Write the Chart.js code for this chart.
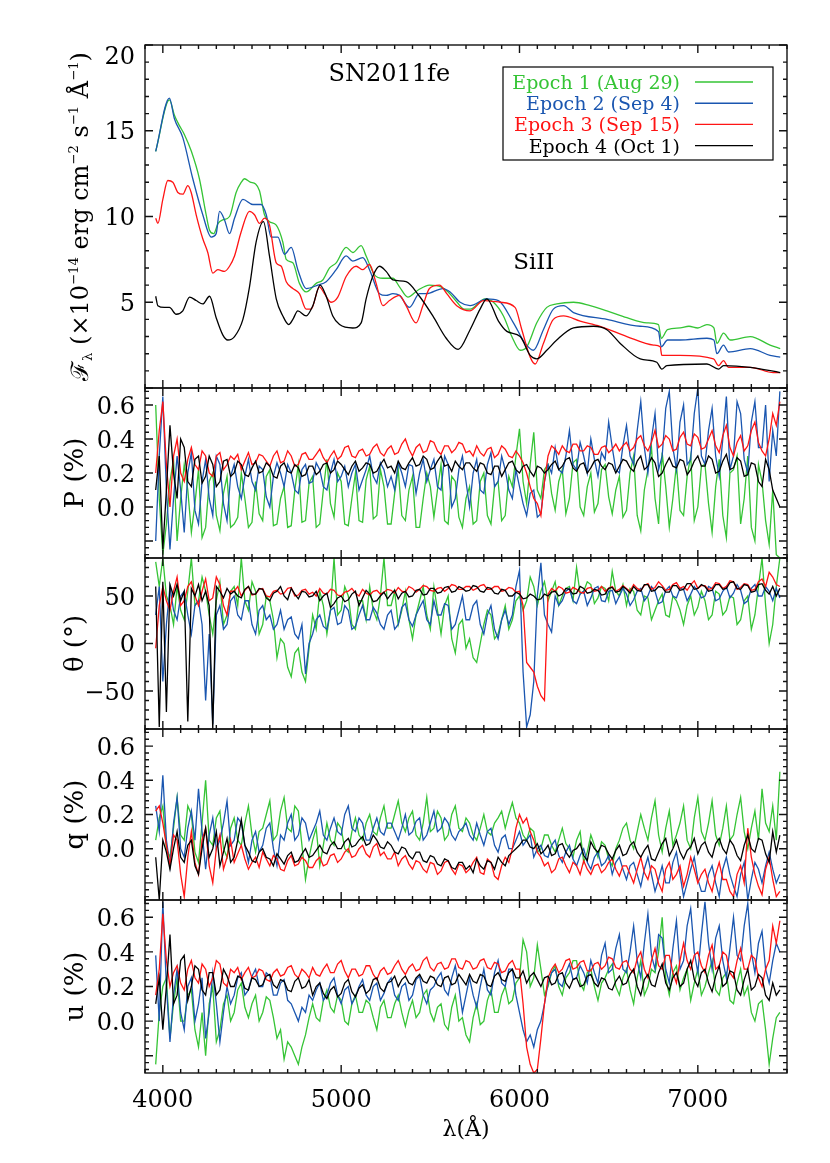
<!DOCTYPE html>
<html>
<head>
<meta charset="utf-8">
<script src="https://cdn.jsdelivr.net/npm/chart.js@4.4.0/dist/chart.umd.min.js"></script>
<style>
  html, body { margin: 0; padding: 0; background: #fff; }
  #chart { display: block; }
</style>
</head>
<body>
<canvas id="chart" width="830" height="1163"></canvas>
<script>
// ---- values ----
const epochLabels = ["Epoch 1 (Aug 29)", "Epoch 2 (Sep 4)", "Epoch 3 (Sep 15)", "Epoch 4 (Oct 1)"];
const epochColors = ["#35c435", "#1a56b0", "#ff1414", "#000000"];

// flux spectra (x 10^-14 erg cm^-2 s^-1 A^-1)
const e1Wave = [3960,4037,4065,4093,4120,4160,4205,4243,4262,4285,4310,4336,4374,4411,4440,4458,4490,4520,4542,4570,4598,4636,4673,4692,4729,4766,4804,4860,4897,4935,4972,5028,5065,5112,5140,5187,5234,5290,5327,5374,5430,5495,5560,5600,5650,5690,5723,5807,5854,5910,5957,6004,6041,6097,6153,6209,6303,6396,6490,6602,6714,6779,6795,6830,6901,6950,7000,7051,7090,7107,7144,7182,7294,7405,7462];
const e1Flux = [13.8,16.8,15.9,15.3,14.8,13.8,12.2,10.1,9.2,9.0,9.6,9.8,10.0,11.4,12.0,12.2,12.0,11.9,11.5,10.1,9.7,9.5,8.5,7.5,7.3,6.1,5.6,6.1,6.3,7.0,7.3,8.2,7.9,8.3,7.7,6.6,6.4,6.4,5.9,5.3,5.7,6.0,5.9,5.6,5.0,4.6,4.6,5.2,5.0,4.2,3.0,2.2,2.4,3.8,4.7,4.9,5.0,4.8,4.5,4.1,3.8,3.7,2.9,3.4,3.5,3.6,3.5,3.7,3.5,2.6,3.2,2.8,3.0,2.5,2.3];

const e2Wave = [3960,4037,4065,4112,4168,4224,4271,4299,4318,4346,4374,4402,4449,4505,4551,4580,4607,4645,4682,4720,4757,4804,4869,4916,4972,5028,5065,5121,5159,5215,5252,5290,5327,5383,5439,5477,5570,5611,5667,5723,5817,5882,5966,6032,6078,6134,6190,6247,6303,6490,6677,6779,6795,6830,6901,7051,7090,7107,7144,7172,7294,7405,7462];
const e2Flux = [13.8,16.9,15.7,14.6,12.2,10.1,8.8,9.0,10.3,9.8,9.0,9.9,11.0,10.7,10.7,10.1,8.8,8.8,7.8,8.2,6.9,5.8,6.0,6.2,6.9,7.7,7.4,7.6,6.9,5.5,5.4,5.5,5.4,4.7,5.5,5.5,5.8,5.6,5.0,4.8,5.2,5.1,3.8,2.6,2.2,3.4,4.6,4.8,4.4,4.0,3.6,3.3,2.4,2.8,2.8,2.9,2.8,2.0,2.5,2.1,2.3,1.9,1.8];

const e3Wave = [3960,3972,4000,4028,4056,4084,4112,4140,4159,4187,4224,4252,4280,4308,4346,4374,4402,4439,4486,4514,4542,4570,4598,4636,4664,4692,4729,4766,4804,4832,4878,4906,4944,4981,5028,5084,5121,5159,5196,5234,5271,5327,5364,5420,5458,5495,5551,5592,5648,5723,5798,5891,5975,6013,6060,6088,6134,6190,6247,6340,6452,6602,6752,6789,6798,6901,7088,7116,7144,7172,7294,7424,7462];
const e3Flux = [9.9,9.6,11.0,12.1,12.0,11.4,11.3,11.8,11.4,10.1,8.7,7.9,6.7,6.9,6.8,7.1,7.7,9.1,10.3,10.1,9.6,9.9,9.5,7.3,7.1,6.2,5.8,5.5,4.6,4.6,5.9,5.5,5.0,5.3,6.5,7.1,6.9,7.2,6.1,4.8,5.1,5.4,4.8,3.8,4.8,5.8,6.0,5.5,4.8,4.5,5.1,5.0,4.7,3.4,1.8,1.4,2.6,4.0,4.2,3.9,3.6,3.0,2.5,2.4,1.9,1.9,1.7,1.3,1.6,1.2,1.2,0.9,0.9];

const e4Wave = [3960,3972,4009,4037,4075,4112,4150,4187,4224,4262,4299,4336,4364,4402,4449,4486,4523,4564,4598,4636,4673,4706,4729,4757,4804,4841,4882,4916,4953,4991,5065,5112,5140,5177,5215,5252,5290,5364,5439,5514,5589,5656,5723,5779,5817,5882,5929,6004,6060,6097,6153,6209,6303,6415,6490,6565,6677,6770,6798,6826,7051,7116,7144,7294,7462];
const e4Flux = [5.35,4.8,4.7,4.7,4.3,4.5,5.3,5.1,4.9,5.35,4.1,3.1,2.8,3.0,4.0,5.9,8.5,9.7,7.7,5.2,4.2,3.7,4.0,4.5,4.2,4.8,6.0,5.35,4.2,3.7,3.5,3.8,5.2,6.5,7.1,6.8,6.3,6.2,5.35,4.2,2.9,2.25,3.4,4.6,5.2,3.9,3.3,3.0,1.9,1.7,2.2,2.8,3.5,3.6,3.4,2.6,1.7,1.5,1.1,1.3,1.4,1.1,1.3,1.2,0.9];

// polarimetry: shared wavelength grid
const polWave = [
  3960,3980,4000,4020,4040,4060,4080,4100,4120,4140,4160,4180,4200,4220,4240,4260,4280,4300,4320,4340,4360,4380,
  4400,4420,4440,4460,4480,4500,4520,4540,4560,4580,4600,4620,4640,4660,4680,4700,4720,4740,4760,4780,4800,4820,
  4840,4860,4880,4900,4920,4940,4960,4980,5000,5020,5040,5060,5080,5100,5120,5140,5160,5180,5200,5220,5240,5260,
  5280,5300,5320,5340,5360,5380,5400,5420,5440,5460,5480,5500,5520,5540,5560,5580,5600,5620,5640,5660,5680,5700,
  5720,5740,5760,5780,5800,5820,5840,5860,5880,5900,5920,5940,5960,5980,6000,6020,6040,6060,6080,6100,6120,6140,
  6160,6180,6200,6220,6240,6260,6280,6300,6320,6340,6360,6380,6400,6420,6440,6460,6480,6500,6520,6540,6560,6580,
  6600,6620,6640,6660,6680,6700,6720,6740,6760,6780,6800,6820,6840,6860,6880,6900,6920,6940,6960,6980,7000,7020,
  7040,7060,7080,7100,7120,7140,7160,7180,7200,7220,7240,7260,7280,7300,7320,7340,7360,7380,7400,7420,7440,7460];

// P (%)
const pE1 = [
  0.60,0.05,-0.28,-0.10,0.15,0.28,-0.20,0.05,0.25,0.10,-0.15,0.02,0.22,-0.18,-0.12,0.15,0.20,-0.05,-0.14,0.08,0.18,-0.12,
  -0.10,-0.06,0.20,0.05,-0.12,-0.09,0.15,-0.04,-0.08,0.18,0.22,-0.11,-0.10,0.05,0.12,-0.12,-0.11,0.10,0.25,-0.09,-0.08,0.14,
  0.18,-0.12,-0.10,0.10,0.28,0.02,-0.06,0.20,0.15,-0.10,-0.11,0.05,0.20,-0.08,-0.09,0.16,0.24,-0.07,-0.05,0.22,0.12,-0.10,
  -0.10,0.08,0.22,-0.05,-0.08,0.10,0.18,-0.12,-0.12,0.05,0.20,0.12,-0.06,0.10,0.25,-0.08,-0.10,0.18,0.15,-0.06,-0.12,0.05,
  0.12,-0.10,-0.08,0.15,0.20,-0.05,-0.10,0.12,0.15,-0.08,-0.05,0.18,0.12,0.30,0.46,0.15,0.02,0.25,0.44,0.10,0.05,0.22,
  0.25,0.08,-0.02,0.15,0.22,-0.04,0.05,0.26,0.28,0.00,-0.05,0.12,0.20,-0.03,0.02,0.22,0.25,0.06,-0.04,0.10,0.18,-0.06,
  -0.02,0.20,0.30,-0.05,-0.14,0.10,0.22,0.35,0.05,-0.10,0.32,0.12,-0.12,0.05,0.25,-0.02,-0.05,0.18,0.30,-0.08,0.00,0.24,
  0.25,0.02,-0.15,0.12,0.28,-0.05,-0.18,0.20,0.22,0.30,-0.10,0.05,0.30,-0.12,-0.20,0.25,0.15,-0.08,-0.22,0.10,-0.28,-0.30];
const pE2 = [
  -0.20,0.30,0.65,0.10,-0.25,0.05,0.30,0.10,-0.15,0.20,0.32,-0.02,-0.10,0.15,0.28,0.05,-0.05,0.30,0.25,0.02,-0.08,0.18,
  0.25,0.12,0.05,0.18,0.28,0.15,0.10,0.24,0.22,0.06,0.00,0.18,0.26,0.20,0.12,0.25,0.20,0.10,0.08,0.22,0.25,0.14,
  0.15,0.26,0.22,0.12,0.10,0.20,0.28,0.15,0.18,0.24,0.12,0.20,0.25,0.10,0.16,0.22,0.30,0.18,0.14,0.26,0.22,0.12,
  0.18,0.10,0.26,0.20,0.12,0.25,0.24,0.08,0.20,0.28,0.15,0.22,0.28,0.12,0.10,0.30,0.25,0.00,0.05,0.22,0.30,0.15,
  0.00,0.20,0.28,0.10,0.08,0.25,0.32,0.12,0.15,0.30,0.22,0.10,0.05,0.22,0.12,0.02,-0.05,0.08,0.10,-0.06,-0.04,0.15,
  0.25,0.20,0.35,0.22,0.20,0.30,0.45,0.25,0.22,0.38,0.30,0.20,0.40,0.28,0.18,0.32,0.28,0.50,0.35,0.22,0.20,0.36,
  0.48,0.30,0.25,0.45,0.62,0.35,0.20,0.40,0.55,0.22,0.30,0.58,0.68,0.35,0.22,0.50,0.60,0.25,0.28,0.55,0.70,0.30,
  0.25,0.45,0.58,0.30,0.18,0.40,0.65,0.22,0.30,0.62,0.55,0.28,0.20,0.50,0.62,0.35,0.35,0.60,0.15,0.45,0.30,0.68];
const pE3 = [
  0.20,0.45,0.62,0.25,0.00,0.30,0.40,0.20,0.15,0.28,0.35,0.25,0.22,0.33,0.30,0.20,0.18,0.30,0.32,0.22,0.25,0.30,
  0.28,0.31,0.22,0.27,0.32,0.25,0.26,0.31,0.30,0.27,0.24,0.30,0.33,0.26,0.27,0.33,0.30,0.24,0.25,0.31,0.32,0.28,
  0.28,0.31,0.34,0.29,0.26,0.30,0.33,0.28,0.30,0.35,0.36,0.30,0.29,0.33,0.34,0.30,0.31,0.35,0.37,0.32,0.30,0.34,
  0.36,0.31,0.32,0.37,0.40,0.34,0.30,0.35,0.37,0.32,0.33,0.39,0.38,0.33,0.31,0.36,0.36,0.32,0.34,0.38,0.37,0.32,
  0.33,0.30,0.36,0.32,0.30,0.34,0.35,0.29,0.31,0.36,0.34,0.30,0.29,0.33,0.30,0.26,0.20,0.12,0.05,0.02,-0.05,0.15,
  0.30,0.36,0.34,0.31,0.36,0.33,0.32,0.37,0.37,0.33,0.33,0.36,0.35,0.31,0.31,0.35,0.36,0.32,0.34,0.37,0.33,0.36,
  0.38,0.33,0.35,0.40,0.42,0.36,0.33,0.38,0.45,0.35,0.37,0.42,0.40,0.33,0.34,0.41,0.44,0.37,0.36,0.43,0.41,0.34,
  0.35,0.40,0.45,0.36,0.32,0.42,0.48,0.35,0.30,0.38,0.42,0.33,0.36,0.45,0.50,0.38,0.33,0.30,0.40,0.55,0.48,0.62];
const pE4 = [
  0.10,0.30,-0.25,0.10,0.48,0.20,0.05,0.40,0.35,0.15,0.12,0.28,0.30,0.14,0.18,0.30,0.25,0.12,0.15,0.27,0.28,0.18,
  0.20,0.27,0.25,0.19,0.18,0.23,0.27,0.20,0.21,0.26,0.24,0.18,0.17,0.24,0.26,0.21,0.20,0.25,0.23,0.18,0.19,0.24,
  0.24,0.19,0.21,0.25,0.26,0.20,0.22,0.27,0.25,0.22,0.19,0.24,0.27,0.21,0.23,0.26,0.25,0.20,0.21,0.25,0.28,0.23,
  0.24,0.20,0.27,0.23,0.22,0.26,0.29,0.24,0.25,0.30,0.28,0.22,0.23,0.27,0.30,0.24,0.25,0.21,0.27,0.24,0.22,0.26,
  0.26,0.23,0.21,0.26,0.25,0.20,0.19,0.24,0.24,0.18,0.22,0.26,0.27,0.22,0.20,0.24,0.25,0.21,0.18,0.24,0.23,0.20,
  0.22,0.25,0.27,0.22,0.24,0.28,0.29,0.23,0.21,0.25,0.26,0.20,0.23,0.27,0.28,0.24,0.22,0.26,0.25,0.20,0.24,0.28,
  0.27,0.23,0.21,0.27,0.30,0.22,0.24,0.29,0.26,0.18,0.20,0.25,0.29,0.24,0.23,0.28,0.27,0.19,0.22,0.27,0.30,0.24,
  0.24,0.30,0.28,0.20,0.21,0.27,0.31,0.22,0.23,0.29,0.27,0.18,0.19,0.26,0.25,0.15,0.12,0.28,0.22,0.10,0.05,0.00];

// theta (deg)
const tE1 = [
  86,60,90,50,40,20,60,35,25,55,90,40,45,70,55,30,10,45,65,20,30,55,
  60,40,90,45,35,65,55,10,20,50,45,25,-15,5,0,-25,-35,-10,-5,-30,-40,-5,
  30,15,55,40,10,35,90,30,35,60,50,20,15,45,45,25,60,35,25,50,90,40,
  40,55,20,35,55,25,5,30,45,60,30,15,60,35,10,40,50,5,-10,20,25,-5,
  5,-15,-20,0,20,35,30,5,10,25,40,15,25,45,50,35,45,70,60,40,55,65,
  45,55,65,40,50,58,60,45,80,52,55,65,62,42,48,60,58,45,76,55,50,62,
  40,58,55,35,30,50,48,25,35,45,52,30,28,50,45,35,20,40,50,30,38,55,
  45,25,30,55,52,30,35,50,48,20,25,45,50,15,30,60,90,40,0,20,60,90];
const tE2 = [
  30,60,-40,20,60,35,25,50,55,30,10,40,45,20,-60,10,-85,30,40,15,20,45,
  50,30,25,45,45,20,10,35,40,25,30,15,20,35,15,25,28,10,5,20,-32,0,
  10,25,30,18,15,35,38,20,22,40,35,15,18,30,40,25,25,38,32,20,15,30,
  35,15,20,38,42,25,18,30,38,45,25,20,45,30,30,42,40,15,20,35,50,25,
  25,40,45,20,10,30,40,15,5,25,35,20,30,60,77,-30,-88,-75,-40,50,85,30,
  20,12,50,40,45,55,58,45,42,52,55,40,48,58,60,45,44,55,56,42,50,58,
  52,40,46,55,58,45,50,60,55,42,44,56,60,50,48,58,57,45,52,60,55,48,
  50,60,58,45,47,55,60,48,53,62,56,42,45,58,62,50,50,60,55,45,58,48];
const tE3 = [
  -5,40,60,45,35,55,70,40,45,60,65,50,40,55,68,45,48,70,62,40,30,55,
  55,60,50,56,60,51,52,57,58,50,49,55,56,52,53,58,59,50,51,56,57,52,
  54,50,58,53,52,57,56,51,50,54,55,58,53,50,57,53,51,55,56,52,54,57,
  56,53,59,55,54,60,58,54,57,61,60,56,55,58,59,55,58,62,61,57,57,60,
  60,56,58,61,62,57,57,60,60,55,56,59,58,54,55,40,-20,-25,-30,-45,-55,-60,
  52,58,55,60,58,53,54,59,57,54,53,58,59,55,56,60,55,58,60,55,57,61,
  58,55,62,58,56,61,63,57,59,65,61,56,57,62,64,58,60,56,62,66,58,61,
  61,57,58,64,63,58,60,66,65,57,59,63,62,56,57,65,68,60,75,70,62,60];
const tE4 = [
  60,-88,65,-72,62,50,62,45,55,-82,58,50,62,45,55,40,-90,60,55,48,58,52,
  55,50,48,57,60,52,52,58,57,48,45,53,55,60,50,46,58,52,47,55,54,49,
  50,55,45,50,53,38,42,48,50,44,46,52,55,40,48,56,52,44,45,50,54,47,
  52,56,47,53,55,49,50,56,57,51,52,58,58,53,54,59,60,54,55,60,58,55,
  56,61,60,55,54,59,58,53,52,57,56,50,50,54,52,47,48,52,50,46,47,52,
  50,54,55,50,52,58,57,52,53,60,58,53,54,57,56,51,52,58,59,54,55,60,
  57,53,60,56,55,62,62,55,56,60,59,54,54,61,61,56,57,63,63,57,58,62,
  60,55,56,62,62,57,58,64,65,58,57,62,61,54,55,62,63,56,52,60,50,58];

// q (%)
const qE1 = [
  0.05,0.18,0.25,0.00,-0.05,0.12,0.30,0.08,0.05,0.25,0.20,-0.02,-0.08,0.15,0.40,0.05,0.02,0.18,0.22,0.00,-0.05,0.12,
  0.18,0.05,0.02,0.15,0.25,0.08,-0.02,0.10,0.12,0.20,0.28,0.05,0.08,0.22,0.30,0.12,0.10,0.25,0.22,0.02,-0.18,-0.05,
  0.05,0.12,-0.10,0.02,0.15,0.05,0.02,0.15,0.12,0.00,-0.02,0.10,0.18,0.08,0.05,0.15,0.20,0.10,0.08,0.18,0.25,0.12,
  0.12,0.20,0.28,0.15,0.10,0.18,0.22,0.08,0.05,0.15,0.30,0.10,0.12,0.22,0.18,0.05,0.08,0.20,0.25,0.12,0.10,0.18,
  0.15,0.08,0.05,0.12,0.20,0.10,0.08,0.15,0.18,0.22,0.12,0.20,0.27,0.18,0.15,0.08,0.05,0.12,0.10,-0.02,0.00,0.08,
  0.08,0.02,-0.02,0.05,0.12,0.03,0.00,-0.05,0.05,0.10,-0.08,-0.02,0.08,0.02,-0.05,0.04,0.02,-0.06,-0.10,0.00,0.05,0.12,
  0.15,0.05,0.00,0.10,0.20,0.12,0.05,0.18,0.28,0.08,-0.02,0.12,0.22,0.02,0.08,0.15,0.25,0.05,0.00,0.18,0.30,0.10,
  0.05,0.15,0.28,0.08,0.02,0.12,0.25,0.05,0.08,0.20,0.30,0.10,0.00,0.12,0.22,0.05,0.35,0.15,0.10,0.25,0.05,0.45];
const qE2 = [
  0.25,0.10,0.43,0.05,-0.10,0.15,0.30,0.00,-0.05,0.12,0.22,0.05,0.35,0.10,-0.12,0.08,0.18,0.00,0.05,0.15,0.28,0.02,
  0.05,0.18,0.15,0.02,-0.08,0.05,0.10,-0.02,0.02,0.12,0.15,0.00,-0.10,0.08,0.05,0.15,0.20,0.05,0.08,0.18,0.15,0.05,
  0.10,0.15,0.22,0.08,0.05,0.12,0.18,0.10,0.08,0.20,0.25,0.12,0.10,0.18,0.15,0.05,0.05,0.12,0.18,0.10,0.08,0.15,
  0.15,0.10,0.05,0.12,0.20,0.08,0.10,0.16,0.18,0.05,0.08,0.15,0.22,0.10,0.12,0.18,0.15,0.08,0.05,0.10,0.12,0.15,
  0.08,0.05,0.15,0.08,0.02,0.10,0.12,0.02,-0.02,0.06,0.08,0.00,0.00,0.05,0.10,0.02,0.05,0.08,-0.05,0.00,0.02,-0.04,
  -0.05,0.02,0.05,-0.04,-0.08,-0.02,0.02,-0.06,-0.10,-0.04,0.00,-0.08,-0.12,-0.05,-0.02,-0.10,-0.08,-0.04,-0.15,-0.08,-0.05,-0.12,
  -0.18,-0.10,-0.08,-0.15,-0.22,-0.12,-0.05,-0.15,-0.25,-0.18,-0.10,-0.20,-0.20,-0.08,-0.02,-0.15,-0.28,-0.20,-0.12,-0.05,-0.18,-0.25,
  -0.25,-0.15,-0.10,-0.20,-0.28,-0.12,-0.05,-0.15,-0.22,-0.28,-0.15,-0.08,-0.30,-0.18,-0.08,-0.12,-0.20,-0.10,-0.02,-0.12,-0.20,-0.15];
const qE3 = [
  0.22,0.25,0.15,0.02,-0.10,0.08,0.05,-0.15,-0.28,-0.05,0.10,-0.08,-0.15,0.05,0.12,-0.10,-0.20,0.00,0.08,-0.12,-0.05,0.05,
  -0.08,-0.03,0.02,-0.06,-0.12,-0.08,-0.05,-0.11,-0.02,-0.06,-0.10,-0.04,-0.06,-0.12,-0.13,-0.07,-0.04,-0.10,-0.09,-0.05,-0.07,-0.11,
  -0.11,-0.07,-0.05,-0.10,-0.09,-0.04,-0.03,-0.08,-0.06,-0.02,0.00,-0.05,-0.04,0.00,0.02,-0.03,-0.05,0.01,0.03,-0.04,-0.02,-0.06,
  -0.06,-0.02,-0.10,-0.06,-0.04,-0.09,-0.12,-0.07,-0.08,-0.12,-0.14,-0.08,-0.09,-0.15,-0.13,-0.08,-0.07,-0.12,-0.15,-0.09,-0.10,-0.14,
  -0.12,-0.08,-0.05,-0.14,-0.15,-0.06,-0.08,-0.16,-0.18,-0.10,-0.05,-0.08,0.00,0.12,0.20,0.15,0.18,0.10,0.05,-0.02,-0.05,-0.10,
  -0.08,-0.14,-0.12,-0.06,-0.05,-0.10,-0.14,-0.08,-0.10,-0.15,-0.07,-0.12,-0.15,-0.10,-0.09,-0.14,-0.12,-0.08,-0.06,-0.12,-0.16,-0.10,
  -0.10,-0.15,-0.20,-0.12,-0.05,-0.14,-0.18,-0.10,-0.12,-0.20,-0.25,-0.12,-0.08,-0.18,-0.15,-0.10,-0.22,-0.15,-0.05,-0.12,-0.20,-0.15,
  -0.12,-0.20,-0.25,-0.15,-0.08,-0.18,-0.18,-0.25,-0.28,-0.15,-0.10,-0.20,0.12,-0.05,-0.15,-0.22,-0.27,-0.12,-0.05,-0.18,-0.28,-0.25];
const qE4 = [
  -0.05,-0.30,0.05,-0.02,-0.12,0.00,0.10,-0.05,-0.08,0.02,0.05,-0.10,-0.15,0.00,0.12,-0.05,0.00,0.10,-0.10,-0.02,0.06,-0.08,
  -0.05,0.05,0.17,0.02,-0.02,-0.07,-0.08,-0.02,0.00,-0.05,-0.06,-0.10,-0.03,-0.06,-0.09,-0.04,-0.02,-0.08,-0.07,-0.03,0.00,-0.05,
  -0.04,-0.01,0.02,-0.02,-0.03,0.02,0.04,0.00,0.00,0.04,0.06,0.01,0.02,0.05,0.07,0.02,0.03,0.08,0.05,0.01,0.00,0.04,
  0.02,-0.02,-0.03,0.01,0.00,-0.04,-0.06,-0.02,-0.02,-0.07,-0.08,-0.04,-0.05,-0.09,-0.10,-0.06,-0.07,-0.11,-0.12,-0.08,-0.08,-0.12,
  -0.10,-0.14,-0.06,-0.10,-0.12,-0.07,-0.08,-0.12,-0.05,-0.08,-0.10,-0.04,-0.02,0.00,0.02,0.05,0.05,0.01,0.00,0.03,-0.03,-0.01,
  0.02,-0.04,-0.03,0.02,0.03,-0.02,-0.05,-0.01,0.00,0.03,-0.04,-0.07,0.04,0.00,-0.02,0.02,0.01,-0.03,-0.06,-0.01,0.02,-0.04,
  -0.03,0.02,0.04,-0.02,-0.05,-0.01,0.02,-0.06,-0.07,-0.02,0.03,0.06,-0.04,0.00,0.05,-0.02,-0.06,-0.01,0.01,0.06,-0.03,0.02,
  0.04,-0.02,-0.05,0.03,0.06,0.00,-0.03,0.05,0.02,-0.04,-0.07,0.02,0.08,0.00,-0.02,0.06,0.05,-0.03,-0.08,0.10,-0.02,0.08];

// u (%)
const uE1 = [
  -0.25,0.05,0.20,0.25,-0.10,0.10,0.25,0.00,0.00,0.15,0.18,-0.05,-0.15,0.05,-0.20,0.10,0.20,-0.12,-0.05,0.10,0.15,0.00,
  0.05,0.18,0.22,0.08,0.02,0.10,0.15,0.00,0.05,0.14,0.12,0.02,-0.10,-0.05,-0.22,-0.12,-0.15,-0.20,-0.25,-0.15,-0.08,0.02,
  0.10,0.02,0.00,0.12,0.18,0.08,0.05,0.15,0.12,0.00,-0.02,0.10,0.15,0.05,0.05,0.12,0.10,0.02,-0.05,0.08,0.12,0.02,
  0.02,0.10,0.15,0.05,-0.03,0.06,0.12,0.02,0.05,0.15,0.18,0.05,0.00,0.08,0.10,-0.02,-0.05,0.08,0.15,0.00,0.02,-0.08,
  -0.12,0.02,0.10,-0.02,0.00,0.12,0.18,0.05,0.05,0.15,0.20,0.10,0.12,0.22,0.25,0.47,0.40,0.20,0.25,0.44,0.30,0.15,
  0.20,0.28,0.32,0.20,0.15,0.25,0.28,0.35,0.35,0.22,0.18,0.28,0.30,0.20,0.12,0.22,0.25,0.30,0.33,0.20,0.15,0.25,
  0.30,0.18,0.10,0.25,0.35,0.15,0.20,0.30,0.28,0.40,0.60,0.25,0.15,0.28,0.32,0.18,0.25,0.30,0.12,0.22,0.30,0.15,
  0.20,0.28,0.35,0.18,0.15,0.25,0.28,0.12,0.10,0.22,0.30,0.15,0.20,0.05,0.00,0.10,0.12,-0.05,-0.25,-0.10,0.02,0.05];
const uE2 = [
  0.38,0.00,0.69,0.20,-0.12,0.15,0.30,0.05,-0.05,0.20,0.25,0.00,0.10,0.25,-0.10,0.05,0.28,0.10,-0.12,0.05,0.20,0.10,
  0.15,0.25,0.28,0.15,0.18,0.26,0.30,0.20,0.20,0.28,0.26,0.15,0.15,0.22,0.24,0.12,0.10,0.05,0.00,0.08,0.05,0.15,
  0.12,0.18,0.22,0.12,0.15,0.22,0.25,0.15,0.10,0.18,0.20,0.10,0.14,0.20,0.24,0.15,0.12,0.20,0.22,0.12,0.16,0.22,
  0.25,0.15,0.12,0.20,0.22,0.12,0.15,0.24,0.26,0.15,0.10,0.18,0.20,0.25,0.28,0.18,0.15,0.25,0.32,0.20,0.05,0.15,
  0.25,0.15,0.08,0.20,0.30,0.18,0.15,0.28,0.35,0.22,0.20,0.30,0.30,0.15,0.05,-0.05,-0.12,-0.08,-0.15,-0.05,0.00,0.10,
  0.22,0.28,0.30,0.22,0.20,0.28,0.33,0.24,0.25,0.32,0.28,0.22,0.35,0.28,0.22,0.38,0.45,0.28,0.30,0.42,0.50,0.30,
  0.28,0.40,0.55,0.35,0.25,0.45,0.62,0.38,0.30,0.50,0.48,0.30,0.22,0.42,0.58,0.30,0.35,0.55,0.65,0.40,0.28,0.50,
  0.69,0.45,0.30,0.48,0.55,0.35,0.25,0.42,0.60,0.38,0.35,0.55,0.68,0.40,0.28,0.45,0.52,0.30,0.22,0.35,0.45,0.40];
const uE3 = [
  0.15,0.30,0.62,0.35,0.20,0.28,0.32,0.22,0.18,0.30,0.35,0.25,0.22,0.33,0.30,0.20,0.25,0.35,0.33,0.22,0.20,0.30,
  0.28,0.31,0.24,0.28,0.31,0.25,0.26,0.30,0.29,0.24,0.23,0.28,0.30,0.26,0.27,0.31,0.32,0.27,0.25,0.30,0.28,0.25,
  0.31,0.27,0.26,0.30,0.33,0.28,0.28,0.33,0.35,0.29,0.25,0.30,0.30,0.26,0.27,0.32,0.32,0.27,0.24,0.29,0.31,0.27,
  0.28,0.32,0.35,0.30,0.27,0.31,0.33,0.29,0.30,0.35,0.37,0.31,0.29,0.33,0.34,0.30,0.31,0.36,0.36,0.31,0.30,0.35,
  0.34,0.30,0.31,0.35,0.36,0.31,0.30,0.34,0.33,0.28,0.29,0.33,0.35,0.30,0.30,0.10,-0.15,-0.25,-0.30,-0.28,-0.10,0.10,
  0.25,0.30,0.33,0.28,0.30,0.35,0.36,0.30,0.31,0.34,0.35,0.29,0.29,0.33,0.34,0.30,0.32,0.37,0.36,0.31,0.30,0.34,
  0.35,0.30,0.28,0.36,0.40,0.30,0.25,0.35,0.42,0.32,0.30,0.38,0.38,0.28,0.22,0.35,0.45,0.35,0.30,0.38,0.40,0.32,
  0.28,0.38,0.44,0.30,0.32,0.40,0.38,0.28,0.25,0.35,0.42,0.30,0.30,0.38,0.36,0.25,0.20,0.30,0.35,0.55,0.45,0.58];
const uE4 = [
  0.10,0.25,-0.05,0.20,0.50,0.10,0.15,0.35,0.38,0.12,0.20,0.32,0.30,0.18,0.15,0.28,0.28,0.15,0.18,0.30,0.26,0.20,
  0.20,0.26,0.25,0.19,0.18,0.25,0.24,0.20,0.21,0.26,0.27,0.21,0.19,0.24,0.23,0.18,0.17,0.23,0.25,0.19,0.20,0.24,
  0.15,0.20,0.22,0.16,0.13,0.18,0.20,0.14,0.16,0.22,0.24,0.17,0.14,0.19,0.21,0.16,0.18,0.24,0.25,0.19,0.17,0.22,
  0.23,0.26,0.20,0.24,0.26,0.22,0.21,0.25,0.27,0.23,0.22,0.26,0.25,0.21,0.20,0.25,0.26,0.21,0.22,0.27,0.24,0.21,
  0.27,0.23,0.22,0.27,0.26,0.21,0.20,0.26,0.28,0.24,0.23,0.28,0.30,0.25,0.25,0.29,0.22,0.26,0.28,0.24,0.20,0.25,
  0.26,0.21,0.22,0.27,0.28,0.22,0.19,0.24,0.25,0.20,0.21,0.26,0.27,0.22,0.20,0.25,0.24,0.19,0.18,0.23,0.26,0.21,
  0.22,0.27,0.30,0.20,0.15,0.24,0.27,0.21,0.20,0.28,0.33,0.22,0.18,0.25,0.28,0.20,0.22,0.30,0.35,0.24,0.20,0.28,
  0.30,0.22,0.17,0.26,0.32,0.20,0.22,0.29,0.28,0.18,0.15,0.24,0.30,0.18,0.20,0.27,0.25,0.15,0.12,0.22,0.15,0.18];

// tick labels
const waveTicks = [4000, 5000, 6000, 7000];
const fluxTicks = [5, 10, 15, 20];
const pctTicks = [0.0, 0.2, 0.4, 0.6];
const thetaTicks = [-50, 0, 50];

// ---- panel setup ----
const panels = [
  { id: "yF", min: 0, max: 20, h: 343, minor: 1, major: 5, ticks: fluxTicks, fmt: v => String(v), title: null, smooth: true,
    series: [[e1Wave, e1Flux], [e2Wave, e2Flux], [e3Wave, e3Flux], [e4Wave, e4Flux]] },
  { id: "yP", min: -0.3, max: 0.7, h: 170, minor: 0.04, major: 0.2, ticks: pctTicks, fmt: v => v.toFixed(1), title: "P (%)",
    series: [[polWave, pE1], [polWave, pE2], [polWave, pE3], [polWave, pE4]] },
  { id: "yT", min: -90, max: 90, h: 171, minor: 10, major: 50, ticks: thetaTicks, fmt: v => String(v).replace("-", "\u2212"), title: "\u03b8 (\u00b0)",
    series: [[polWave, tE1], [polWave, tE2], [polWave, tE3], [polWave, tE4]] },
  { id: "yQ", min: -0.3, max: 0.7, h: 171, minor: 0.04, major: 0.2, ticks: pctTicks, fmt: v => v.toFixed(1), title: "q (%)",
    series: [[polWave, qE1], [polWave, qE2], [polWave, qE3], [polWave, qE4]] },
  { id: "yU", min: -0.3, max: 0.7, h: 173, minor: 0.04, major: 0.2, ticks: pctTicks, fmt: v => v.toFixed(1), title: "u (%)",
    series: [[polWave, uE1], [polWave, uE2], [polWave, uE3], [polWave, uE4]] }
];

const FONT = '"DejaVu Serif", "Liberation Serif", serif';

function pairs(xs, ys) {
  return xs.map((x, i) => ({ x: x, y: ys[i] }));
}

const datasets = [];
panels.forEach(p => {
  p.series.forEach((s, e) => {
    const ds = {
      label: epochLabels[e],
      data: pairs(s[0], s[1]),
      yAxisID: p.id,
      borderColor: epochColors[e],
      borderWidth: 1.3,
      pointRadius: 0,
      tension: 0,
      order: 3 - e
    };
    if (p.smooth) ds.cubicInterpolationMode = "monotone";
    datasets.push(ds);
  });
});

const scales = {
  x: {
    type: "linear", position: "bottom", min: 3900, max: 7500,
    grid: { display: false }, border: { display: false }, ticks: { display: false },
    afterFit: s => { s.height = 90; }
  }
};
panels.forEach((p, i) => {
  scales[p.id] = {
    type: "linear", position: "left", stack: "panels", stackWeight: p.h, weight: 10 - i,
    min: p.min, max: p.max,
    grid: { display: false }, border: { display: false }, ticks: { display: false },
    afterFit: s => { s.width = 145; }
  };
});

// frame, inward ticks, labels, legend, annotations
const framePlugin = {
  id: "frame",
  afterDatasetsDraw(chart) {
    const ctx = chart.ctx;
    const xs = chart.scales.x;
    const area = chart.chartArea;
    ctx.save();
    ctx.strokeStyle = "#111";
    ctx.fillStyle = "#000";
    ctx.lineWidth = 1.4;

    panels.forEach(p => {
      const ys = chart.scales[p.id];
      const top = ys.top, bot = ys.bottom;
      ctx.strokeRect(area.left, top, area.right - area.left, bot - top);

      ctx.beginPath();
      for (let k = 39; k <= 75; k++) {
        const v = k * 100;
        const px = xs.getPixelForValue(v);
        const len = v % 1000 === 0 ? 8 : 4;
        ctx.moveTo(px, bot); ctx.lineTo(px, bot - len);
        ctx.moveTo(px, top); ctx.lineTo(px, top + len);
      }
      const kMin = Math.ceil(p.min / p.minor - 1e-6), kMax = Math.floor(p.max / p.minor + 1e-6);
      const per = Math.round(p.major / p.minor);
      for (let k = kMin; k <= kMax; k++) {
        const py = ys.getPixelForValue(k * p.minor);
        const len = k % per === 0 ? 8 : 4;
        ctx.moveTo(area.left, py); ctx.lineTo(area.left + len, py);
        ctx.moveTo(area.right, py); ctx.lineTo(area.right - len, py);
      }
      ctx.stroke();

      ctx.font = "24px " + FONT;
      ctx.textAlign = "right";
      ctx.textBaseline = "alphabetic";
      p.ticks.forEach(v => {
        let cy = ys.getPixelForValue(v);
        cy = Math.max(cy, top + 10);
        ctx.fillText(p.fmt(v), area.left - 10, cy + 8.7);
      });

      const cyT = (top + bot) / 2;
      if (p.title) {
        ctx.save();
        ctx.translate(83, cyT);
        ctx.rotate(-Math.PI / 2);
        ctx.textAlign = "center";
        ctx.font = "26px " + FONT;
        ctx.fillText(p.title, 0, 0);
        ctx.restore();
      } else {
        drawFluxTitle(ctx, 88, cyT);
      }
    });

    ctx.font = "24px " + FONT;
    ctx.textAlign = "center";
    waveTicks.forEach(v => {
      ctx.fillText(String(v), xs.getPixelForValue(v), area.bottom + 34);
    });
    ctx.font = "22px " + FONT;
    ctx.fillText("\u03bb(\u00c5)", (area.left + area.right) / 2, area.bottom + 63);

    const yF = chart.scales.yF;
    ctx.font = "24px " + FONT;
    ctx.fillText("SN2011fe", xs.getPixelForValue(5270), yF.getPixelForValue(18.4) + 9);
    ctx.font = "23px " + FONT;
    ctx.fillText("SiII", xs.getPixelForValue(6080), yF.getPixelForValue(7.4) + 8);

    // legend
    ctx.lineWidth = 1.2;
    ctx.strokeStyle = "#000";
    ctx.strokeRect(503, 67, 270, 93);
    ctx.font = "19px " + FONT;
    ctx.textAlign = "right";
    epochLabels.forEach((lab, i) => {
      const cy = 82 + i * 21.2;
      ctx.fillStyle = epochColors[i];
      ctx.fillText(lab, 680, cy + 7);
      ctx.strokeStyle = epochColors[i];
      ctx.lineWidth = 1.4;
      ctx.beginPath();
      ctx.moveTo(695, cy); ctx.lineTo(753, cy);
      ctx.stroke();
    });
    ctx.restore();
  }
};

function drawFluxTitle(ctx, x, cy) {
  const base = 24;
  const pieces = [
    { t: "\u2131", s: 1, dy: 0 },
    { t: "\u03bb", s: 0.55, dy: 4 },
    { t: " (\u00d710", s: 1, dy: 0 },
    { t: "\u221214", s: 0.55, dy: -10 },
    { t: " erg cm", s: 1, dy: 0 },
    { t: "\u22122", s: 0.55, dy: -10 },
    { t: " s", s: 1, dy: 0 },
    { t: "\u22121", s: 0.55, dy: -10 },
    { t: " \u00c5", s: 1, dy: 0 },
    { t: "\u22121", s: 0.55, dy: -10 },
    { t: ")", s: 1, dy: 0 }
  ];
  ctx.save();
  ctx.translate(x, cy);
  ctx.rotate(-Math.PI / 2);
  ctx.textAlign = "left";
  let total = 0;
  pieces.forEach(p => {
    ctx.font = (base * p.s) + "px " + FONT;
    p.w = ctx.measureText(p.t).width;
    total += p.w;
  });
  let pos = -total / 2;
  pieces.forEach(p => {
    ctx.font = (base * p.s) + "px " + FONT;
    ctx.fillText(p.t, pos, p.dy);
    pos += p.w;
  });
  ctx.restore();
}

new Chart(document.getElementById("chart"), {
  type: "line",
  data: { datasets: datasets },
  options: {
    responsive: false,
    animation: false,
    devicePixelRatio: 1,
    layout: { padding: { top: 45, right: 43, left: 0, bottom: 0 } },
    plugins: { legend: { display: false }, tooltip: { enabled: false } },
    scales: scales
  },
  plugins: [framePlugin]
});
</script>
</body>
</html>
